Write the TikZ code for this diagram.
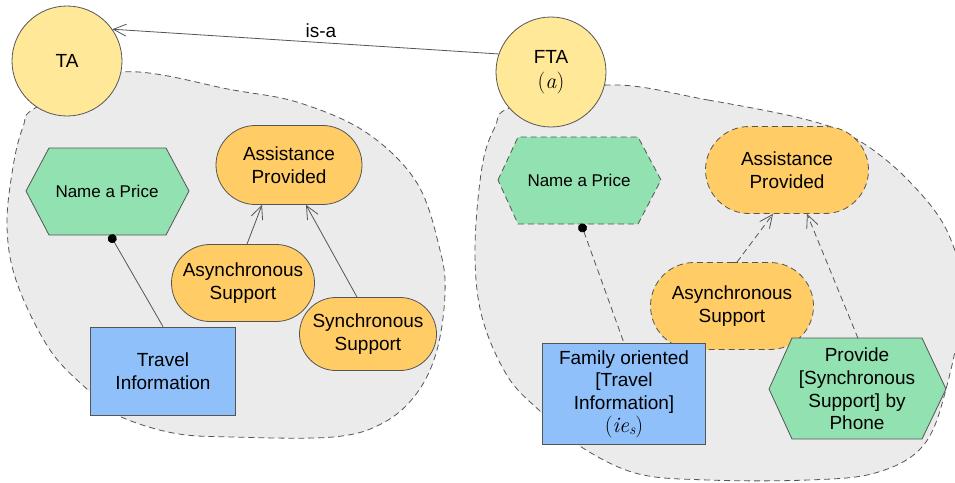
\documentclass[tikz,border=0pt]{standalone}
\usepackage{fontspec}
\setmainfont{Liberation Sans}
\newfontfamily\lmfont{Latin Modern Roman}
\usetikzlibrary{arrows.meta,shapes.misc}
\definecolor{actorfill}{RGB}{255,233,153}
\definecolor{taskfill}{RGB}{146,225,176}
\definecolor{goalfill}{RGB}{255,204,102}
\definecolor{resfill}{RGB}{143,192,250}
\definecolor{blobfill}{RGB}{235,235,235}
\definecolor{edge}{RGB}{85,85,85}
\newcommand\ital[1]{{\lmfont\itshape #1}}
\newcommand\bigser{\fontsize{22}{24}\selectfont\lmfont}
\tikzset{
  x=1pt, y=-1pt,
  every node/.style={font=\fontsize{19}{22.7}\selectfont, align=center, inner sep=0pt},
  small/.style={font=\fontsize{17}{20}\selectfont},
  outline/.style={draw=edge, line width=0.8pt},
  dashedge/.style={dash pattern=on 6pt off 4pt},
  boundary/.style={outline, dashedge, fill=blobfill},
  actor/.style={circle, outline, fill=actorfill, minimum size=110pt},
  goal/.style={rounded rectangle, outline, fill=goalfill},
  resource/.style={rectangle, outline, fill=resfill},
  hexfill/.style={outline, fill=taskfill},
  link/.style={draw=edge, line width=0.8pt},
  contrib/.style={link, -{Straight Barb[length=13pt,width=12pt,line width=0.8pt]}},
  dot/.style={link, {Circle[length=9pt,color=black]}-},
}
\begin{document}
\begin{tikzpicture}
\useasboundingbox (0,0) rectangle (955,482);

% actor boundaries
\draw[boundary] plot[smooth cycle, tension=0.6] coordinates {
  (121,72) (233,90) (300,103) (367,133) (417,183) (440,250) (445,293)
  (437,350) (417,393) (383,423) (333,437) (233,437) (173,433) (117,415)
  (90,392) (50,350) (17,283) (7,227) (13,167) (23,127) (37,107)};
\draw[boundary] plot[smooth cycle, tension=0.6] coordinates {
  (608,85) (708,100) (808,120) (858,140) (908,180) (948,233) (962,300)
  (945,393) (922,447) (875,473) (808,480) (708,480) (635,473) (575,443)
  (542,413) (508,377) (482,317) (475,250) (482,167) (495,127) (512,107)};

% actors
\node[actor] (ta) at (67,61) {TA};
\node[actor] (fta) at (551,72) {FTA\\[2pt]{\bigser(\textit{a})}};
\draw[contrib] (fta.161) -- node[pos=0.46, above=5pt] {is-a} (ta.35);

% ---- TA internals ----
\draw[hexfill] (26,191) -- (49,148) -- (166,148) -- (189,191) -- (166,235) -- (49,235) -- cycle;
\node[small, minimum width=163pt, minimum height=87pt] (nap) at (107,191) {Name a Price};
\node[goal, minimum width=146pt, minimum height=79pt] (ap) at (289,165) {Assistance\\Provided};
\node[goal, minimum width=143pt, minimum height=77pt] (as) at (243,283) {Asynchronous\\Support};
\node[goal, minimum width=137pt, minimum height=73pt] (ss) at (368,334) {Synchronous\\Support};
\node[resource, minimum width=145pt, minimum height=88pt] (ti) at (163,371) {Travel\\Information};
\draw[contrib] ([xshift=4pt]as.north) -- ([xshift=-27pt]ap.south);
\draw[contrib] ([xshift=-11pt]ss.north) -- ([xshift=17pt]ap.south);
\draw[dot] ([xshift=3pt]nap.south) -- (ti.north);

% ---- FTA internals ----
\draw[hexfill, dashedge] (498,180) -- (518,137) -- (638,137) -- (661,180) -- (638,224) -- (518,224) -- cycle;
\node[small, minimum width=163pt, minimum height=87pt] (fnap) at (579,180) {Name a Price};
\node[goal, dashedge, minimum width=163pt, minimum height=87pt] (fap) at (787,170) {Assistance\\Provided};
\node[goal, dashedge, minimum width=163pt, minimum height=87pt] (fas) at (732,306) {Asynchronous\\Support};
\node[resource, minimum width=163pt, minimum height=101pt] (fti) at (624,394)
  {Family oriented\\{}[Travel\\Information]\\{\bigser(\textit{ie}\raisebox{-2.5pt}{\fontsize{15}{15}\selectfont\textit{s}})}};
\draw[hexfill] (769,389) -- (792,338) -- (922,338) -- (946,389) -- (922,439) -- (792,439) -- cycle;
\node[minimum width=177pt, minimum height=101pt] (fps) at (857,389) {Provide\\{}[Synchronous\\Support] by\\Phone};
\draw[contrib, dashedge] ([xshift=5pt]fas.north) -- ([xshift=-14pt]fap.south);
\draw[contrib, dashedge] ([xshift=1pt]fps.north) -- ([xshift=20pt]fap.south);
\draw[dot, dashedge] ([xshift=2pt]fnap.south) -- (fti.north);
\end{tikzpicture}
\end{document}
